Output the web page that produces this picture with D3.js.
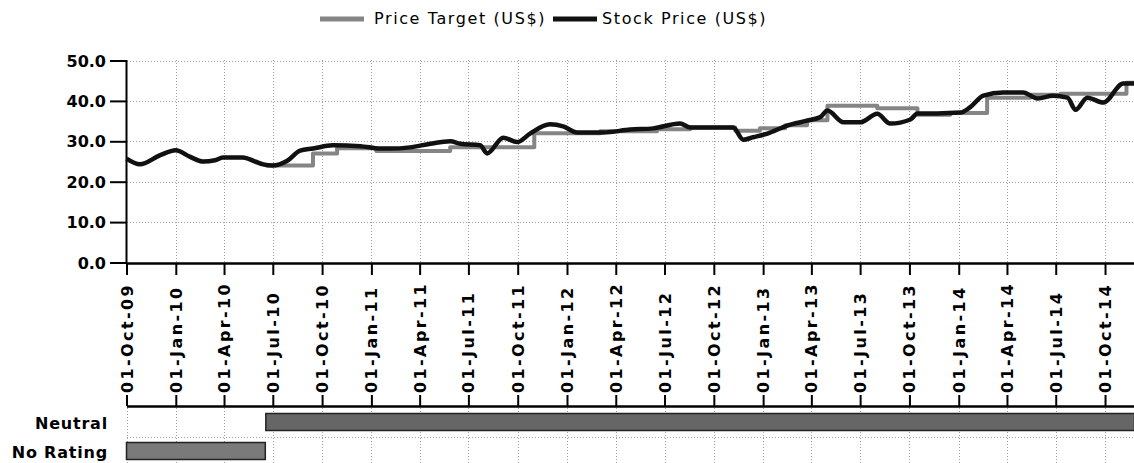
<!DOCTYPE html>
<html>
<head>
<meta charset="utf-8">
<script src="https://cdn.jsdelivr.net/npm/d3@7"></script>
<style>
  body { margin: 0; background: #fff; }
  svg { display: block; }
  text { font-family: "DejaVu Sans", sans-serif; fill: #000; }
</style>
</head>
<body>
<svg width="1134" height="463"></svg>
<script>
var svg = d3.select('svg');
var parse = d3.timeParse('%Y-%m-%d');

// stock price (US$)
var stockDates = ['2009-10-01','2009-10-26','2009-12-02','2010-01-01','2010-01-27','2010-02-21','2010-03-15','2010-03-30',
	'2010-05-06','2010-05-29','2010-06-13','2010-07-01','2010-07-28','2010-08-21','2010-09-14','2010-10-21',
	'2010-12-11','2011-01-17','2011-02-05','2011-03-14','2011-04-21','2011-05-28','2011-06-16','2011-07-23',
	'2011-08-05','2011-09-04','2011-09-30','2011-10-24','2011-11-30','2011-12-25','2012-01-20','2012-03-09',
	'2012-04-28','2012-06-10','2012-07-30','2012-08-18','2012-11-06','2012-11-25','2012-12-13','2013-01-09',
	'2013-02-15','2013-03-24','2013-04-18','2013-05-01','2013-05-31','2013-07-01','2013-08-02','2013-08-26',
	'2013-10-03','2013-10-16','2013-11-22','2014-01-04','2014-01-22','2014-02-16','2014-03-25','2014-05-01',
	'2014-05-28','2014-06-26','2014-07-23','2014-08-07','2014-08-29','2014-09-28','2014-11-04','2014-11-25'];
var stockValues = [25.7,24.3,26.5,27.8,26.2,25.0,25.3,26.0,
	26.0,25.0,24.3,24.0,25.2,27.7,28.2,29.0,
	28.8,28.2,28.2,28.5,29.4,30.0,29.4,29.0,
	27.0,30.9,29.8,31.9,34.2,33.7,32.2,32.2,
	32.9,33.2,34.4,33.4,33.4,30.4,31.0,31.9,
	33.9,35.1,36.0,37.6,34.7,34.7,36.8,34.4,
	35.4,36.9,36.9,37.1,38.4,41.3,42.1,42.1,
	40.6,41.3,40.8,37.8,40.8,39.6,44.3,44.3];

// price target (US$), step changes
var targetDates = ['2010-06-18','2010-09-14','2010-10-29','2011-01-10','2011-05-28','2011-11-01','2012-03-03',
	'2012-06-17','2012-08-18','2012-11-10','2012-12-26','2013-02-11','2013-03-24','2013-05-01','2013-08-02',
	'2013-10-16','2013-12-16','2014-02-23','2014-05-15','2014-07-10','2014-09-20','2014-11-10','2014-11-25'];
var targetValues = [24.0,27.0,28.3,27.6,28.5,32.0,32.5,
	33.0,33.4,32.6,33.2,34.0,35.2,38.8,38.2,
	36.6,37.0,40.8,41.5,41.8,41.8,44.5,44.5];

var ratingNames = ['Neutral','No Rating'];
var ratingStarts = ['2010-06-18','2009-10-01'];
var ratingEnds = ['2014-11-25','2010-06-17'];

var yTicks = [0,10,20,30,40,50];
var legendNames = ['Price Target (US$)','Stock Price (US$)'];

var stock = stockDates.map(function(d, i){ return {date: parse(d), value: stockValues[i]}; });
var target = targetDates.map(function(d, i){ return {date: parse(d), value: targetValues[i]}; });

var x = d3.scaleTime()
	.domain([parse('2009-10-01'), parse('2014-11-25')])
	.range([126.5, 1134.5]);
var y = d3.scaleLinear().domain([0, 50]).range([262.5, 60.5]);
var band = d3.scaleBand().domain(ratingNames).range([408, 466]).paddingInner(0).paddingOuter(0);

var quarters = d3.timeMonth.every(3).range(parse('2009-10-01'), parse('2014-11-25'));
var fmt = d3.timeFormat('%d-%b-%y');

// gridlines
var grid = svg.append('g').attr('stroke', '#a0a0a0').attr('stroke-width', 1).attr('stroke-dasharray', '1,2');
grid.selectAll('.h').data(yTicks.slice(1)).enter().append('line')
	.attr('x1', 127).attr('x2', 1134)
	.attr('y1', function(d){ return Math.round(y(d)) + 0.5; })
	.attr('y2', function(d){ return Math.round(y(d)) + 0.5; });
grid.selectAll('.v').data(quarters.slice(1)).enter().append('line')
	.attr('x1', function(d){ return Math.round(x(d)) + 0.5; })
	.attr('x2', function(d){ return Math.round(x(d)) + 0.5; })
	.attr('y1', 60).attr('y2', 262);
grid.selectAll('.v2').data(quarters).enter().append('line')
	.attr('x1', function(d){ return Math.round(x(d)) + 0.5; })
	.attr('x2', function(d){ return Math.round(x(d)) + 0.5; })
	.attr('y1', 408).attr('y2', 463);
grid.append('line').attr('x1', 127).attr('x2', 1134).attr('y1', band('No Rating') + 0.5).attr('y2', band('No Rating') + 0.5);

// y axis
var yAxis = svg.append('g').attr('transform', 'translate(126,0)')
	.call(d3.axisLeft(y).tickValues(yTicks).tickSize(16).tickPadding(4).tickFormat(d3.format('.1f')));
yAxis.select('.domain').attr('stroke', '#000').attr('stroke-width', 2);
yAxis.selectAll('.tick line').attr('stroke', '#000').attr('stroke-width', 2);
yAxis.selectAll('text').attr('font-size', 16).attr('font-weight', 'bold').attr('font-family', 'DejaVu Sans')
	.attr('fill', '#000').attr('dy', '0.35em');

// x axis (top of date band)
var xAxis = svg.append('g').attr('transform', 'translate(0,263)')
	.call(d3.axisBottom(x).tickValues(quarters).tickSize(12).tickSizeOuter(0).tickFormat(''));
xAxis.select('.domain').attr('stroke', '#000').attr('stroke-width', 2.5);
xAxis.selectAll('.tick line').attr('stroke', '#000').attr('stroke-width', 2);

// lower axis with ticks up
var xAxis2 = svg.append('g').attr('transform', 'translate(0,406)')
	.call(d3.axisTop(x).tickValues(quarters).tickSize(11).tickSizeOuter(0).tickFormat(''));
xAxis2.select('.domain').attr('stroke', '#000').attr('stroke-width', 2.5);
xAxis2.selectAll('.tick line').attr('stroke', '#000').attr('stroke-width', 2);

// date labels
svg.append('g').selectAll('text').data(quarters).enter().append('text')
	.attr('transform', function(d){ return 'translate(' + (x(d) + 6) + ',393) rotate(-90)'; })
	.attr('font-size', 16)
	.attr('font-weight', 'bold')
	.attr('letter-spacing', 2.4)
	.text(function(d){ return fmt(d); });

// lines
var line = d3.line().x(function(d){ return x(d.date); }).y(function(d){ return y(d.value); });
svg.append('path').datum(target)
	.attr('d', line.curve(d3.curveStepAfter))
	.attr('fill', 'none').attr('stroke', '#858585').attr('stroke-width', 4).attr('stroke-linejoin', 'round');
svg.append('path').datum(stock)
	.attr('d', d3.line().x(function(d){ return x(d.date); }).y(function(d){ return y(d.value); }).curve(d3.curveMonotoneX))
	.attr('fill', 'none').attr('stroke', '#111').attr('stroke-width', 4.5).attr('stroke-linejoin', 'round');

// rating bars
svg.append('g').selectAll('rect').data(ratingNames).enter().append('rect')
	.attr('x', function(d, i){ return x(parse(ratingStarts[i])); })
	.attr('width', function(d, i){ return x(parse(ratingEnds[i])) - x(parse(ratingStarts[i])); })
	.attr('y', function(d){ return band(d) + 5.5; })
	.attr('height', 17)
	.attr('fill', function(d, i){ return i === 0 ? '#666' : '#7a7a7a'; })
	.attr('stroke', '#222').attr('stroke-width', 1.5);
svg.append('g').selectAll('text').data(ratingNames).enter().append('text')
	.attr('x', 108)
	.attr('y', function(d){ return band(d) + band.bandwidth() / 2 + 6; })
	.attr('text-anchor', 'end')
	.attr('font-size', 16)
	.attr('font-weight', 'bold')
	.attr('letter-spacing', 0.8)
	.text(function(d){ return d; });

// legend
var legendX = [320, 553];
var legendTextX = [374, 602];
var legendColors = ['#858585', '#111'];
var legend = svg.append('g');
legend.selectAll('line').data(legendNames).enter().append('line')
	.attr('x1', function(d, i){ return legendX[i]; })
	.attr('x2', function(d, i){ return legendX[i] + 44; })
	.attr('y1', 19).attr('y2', 19)
	.attr('stroke', function(d, i){ return legendColors[i]; }).attr('stroke-width', 5);
legend.selectAll('text').data(legendNames).enter().append('text')
	.attr('x', function(d, i){ return legendTextX[i]; })
	.attr('y', 24)
	.attr('font-size', 16)
	.attr('letter-spacing', 1.6)
	.text(function(d){ return d; });
</script>
</body>
</html>
